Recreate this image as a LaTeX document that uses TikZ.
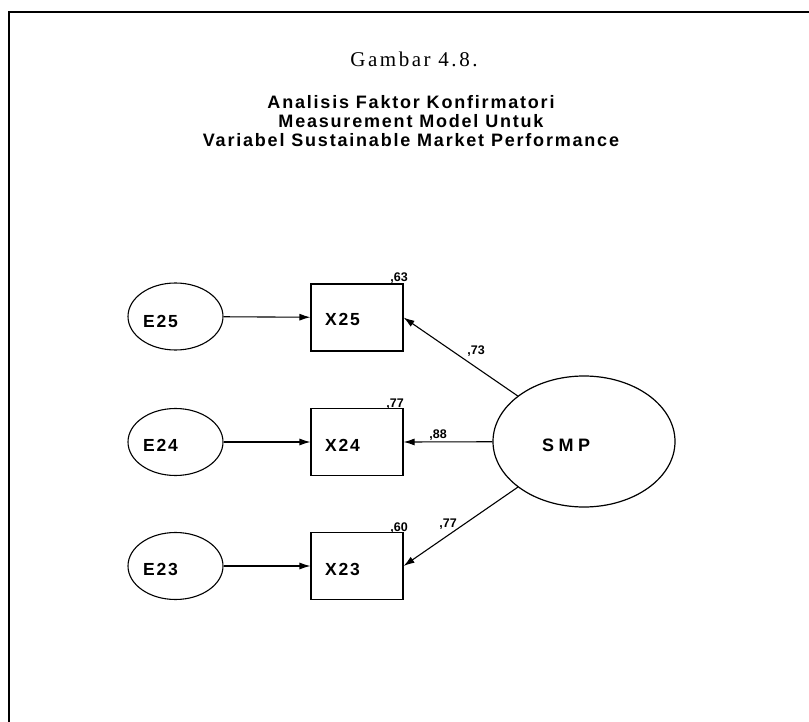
\documentclass[tikz,border=0pt]{standalone}
\usepackage{fontspec}
\setmainfont{Liberation Sans}
\newfontfamily\titlefont[LetterSpace=12]{Liberation Serif}
\newfontfamily\headfont[LetterSpace=10]{Liberation Sans}
\newfontfamily\varfont[LetterSpace=10]{Liberation Sans}
\newfontfamily\latfont[LetterSpace=25]{Liberation Sans}
\usetikzlibrary{shapes.geometric,arrows.meta}
\begin{document}
\begin{tikzpicture}[x=1pt,y=-1pt,
  frame/.style={line width=2pt},
  errvar/.style={draw,ellipse,line width=1.1pt,minimum width=95pt,minimum height=67pt,inner sep=0pt},
  latvar/.style={draw,ellipse,line width=1.2pt,minimum width=182pt,minimum height=131pt,inner sep=0pt},
  obsvar/.style={draw,rectangle,line width=1.1pt,minimum width=92pt,minimum height=67pt,inner sep=0pt},
  varname/.style={anchor=base west,inner sep=0pt,font=\varfont\bfseries\fontsize{17.5}{18}\selectfont},
  coef/.style={anchor=base east,inner sep=0pt,font=\bfseries\fontsize{12.5}{13}\selectfont},
  path/.style={line width=1.1pt,-{Latex[length=11pt,width=7pt]}}]
\useasboundingbox (0,0) rectangle (809,722);
\fill[white] (0,0) rectangle (809,722);

% frame: top and left rules
\coordinate (ftl) at (9,12);
\coordinate (ftr) at (809,12);
\coordinate (fbl) at (9,722);
\draw[frame] (ftr) -- (ftl) -- (fbl);

% headings
\node[anchor=base,inner sep=0pt,font=\titlefont\fontsize{21}{22}\selectfont] (title) at (414,67) {Gambar 4.8.};
\node[anchor=base,inner sep=0pt,font=\headfont\bfseries\fontsize{18}{19}\selectfont] (sub1) at (411,109) {Analisis Faktor Konfirmatori};
\node[anchor=base,inner sep=0pt,font=\headfont\bfseries\fontsize{18}{19}\selectfont] (sub2) at (411,128) {Measurement Model Untuk};
\node[anchor=base,inner sep=0pt,font=\headfont\bfseries\fontsize{18}{19}\selectfont] (sub3) at (411,147) {Variabel Sustainable Market Performance};

% error terms
\node[errvar] (e25) at (175.5,316.5) {};
\node[errvar] (e24) at (175.5,442) {};
\node[errvar] (e23) at (175.5,566) {};
\node[varname] (e25t) at (143,327) {E25};
\node[varname] (e24t) at (143,451) {E24};
\node[varname] (e23t) at (143,575) {E23};

% indicators
\node[obsvar] (x25) at (357,317.5) {};
\node[obsvar] (x24) at (357,442) {};
\node[obsvar] (x23) at (357,566) {};
\node[varname] (x25t) at (325,326) {X25};
\node[varname] (x24t) at (325,451) {X24};
\node[varname] (x23t) at (325,575) {X23};

% latent construct
\node[latvar] (smp) at (584,441.5) {};
\node[anchor=base west,inner sep=0pt,font=\latfont\bfseries\fontsize{18}{19}\selectfont] (smpt) at (542,451) {SMP};

% paths
\draw[path] (e25) -- (x25);
\draw[path] (e24) -- (x24);
\draw[path] (e23) -- (x23);
\draw[path] (smp) -- (x25.east);
\draw[path] (smp) -- (x24.east);
\draw[path] (smp) -- (x23.east);

% squared multiple correlations
\node[coef] (r25) at (408,282) {,63};
\node[coef] (r24) at (404,407) {,77};
\node[coef] (r23) at (408,531) {,60};

% loadings
\node[coef] (l25) at (485,354) {,73};
\node[coef] (l24) at (447,438) {,88};
\node[coef] (l23) at (457,527) {,77};
\end{tikzpicture}
\end{document}
